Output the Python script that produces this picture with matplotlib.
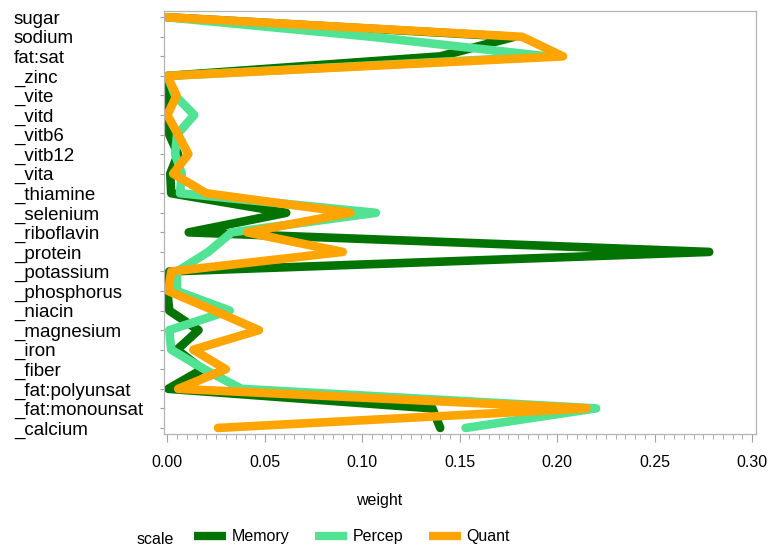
import numpy as np
import matplotlib
matplotlib.use("Agg")
import matplotlib.pyplot as plt
from matplotlib.lines import Line2D

plt.rcParams['font.family'] = ['Liberation Sans', 'DejaVu Sans']

# categories from top to bottom, in data order
nutrients = ["sugar", "sodium", "fat:sat", "_zinc", "_vite", "_vitd", "_vitb6",
             "_vitb12", "_vita", "_thiamine", "_selenium", "_riboflavin",
             "_protein", "_potassium", "_phosphorus", "_niacin", "_magnesium",
             "_iron", "_fiber", "_fat:polyunsat", "_fat:monounsat", "_calcium"]

memory = [0.0, 0.178, 0.140, 0.0, 0.0008, 0.0, 0.001, 0.0055, 0.0015, 0.002,
          0.061, 0.011, 0.278, 0.001, 0.0, 0.001, 0.016, 0.005, 0.018, 0.0005,
          0.136, 0.140]
percep = [0.0, 0.105, 0.195, 0.0, 0.004, 0.0138, 0.005, 0.004, 0.0074, 0.0065,
          0.107, 0.033, 0.021, 0.005, 0.005, 0.032, 0.001, 0.002, 0.019, 0.038,
          0.220, 0.153]
quant = [0.0, 0.182, 0.203, 0.0, 0.0048, 0.0, 0.0055, 0.0108, 0.003, 0.020,
         0.094, 0.041, 0.090, 0.002, 0.0005, 0.024, 0.047, 0.0133, 0.030, 0.0056,
         0.215, 0.026]

series = [("Memory", memory, "#037403"),
          ("Percep", percep, "#52e294"),
          ("Quant", quant, "#ffa502")]

fig = plt.figure(figsize=(7.73, 5.48), dpi=100)
ax = fig.add_axes([164/773, 1-434/548, (756-164)/773, (434-11)/548])

ypos = np.arange(len(nutrients))
handles = []
for name, vals, col in series:
    ax.plot(vals, ypos, color=col, lw=6.2, solid_capstyle='round',
            solid_joinstyle='round')
    handles.append(Line2D([], [], color=col, lw=6, solid_capstyle='butt', label=name))

ax.set_ylim(len(nutrients) - 1 + 0.31, -0.32)
ax.set_xlim(-0.0017, 0.302)
ax.set_yticks(ypos)
ax.set_yticklabels(nutrients, fontsize=13.5, ha='left')
ax.tick_params(axis='y', length=3, color='#a0a0a0', pad=(164-3-15)*0.72)
ax.set_xticks(np.arange(0, 0.301, 0.05))
ax.set_xticklabels(["%.2f" % v for v in np.arange(0, 0.301, 0.05)], fontsize=11.5)
ax.set_xticks(np.arange(0, 0.3001, 0.005), minor=True)
ax.tick_params(axis='x', which='major', length=6, color='#a0a0a0', pad=9)
ax.tick_params(axis='x', which='minor', length=3.5, color='#a0a0a0')
for sp in ax.spines.values():
    sp.set_color('#b4b4b4')
    sp.set_linewidth(0.9)

fig.text(0.49, 1-500/548, "weight", ha='center', va='center', fontsize=11.5)
fig.text(155/773, 1-540/548, "scale", ha='center', va='center', fontsize=11.5)
fig.legend(handles=handles, loc='center', bbox_to_anchor=(352/773, 1-537/548),
           ncol=3, frameon=False, fontsize=11.5, handlelength=2.0,
           handletextpad=0.35, columnspacing=1.6)

fig.savefig("out.png", dpi=100)
